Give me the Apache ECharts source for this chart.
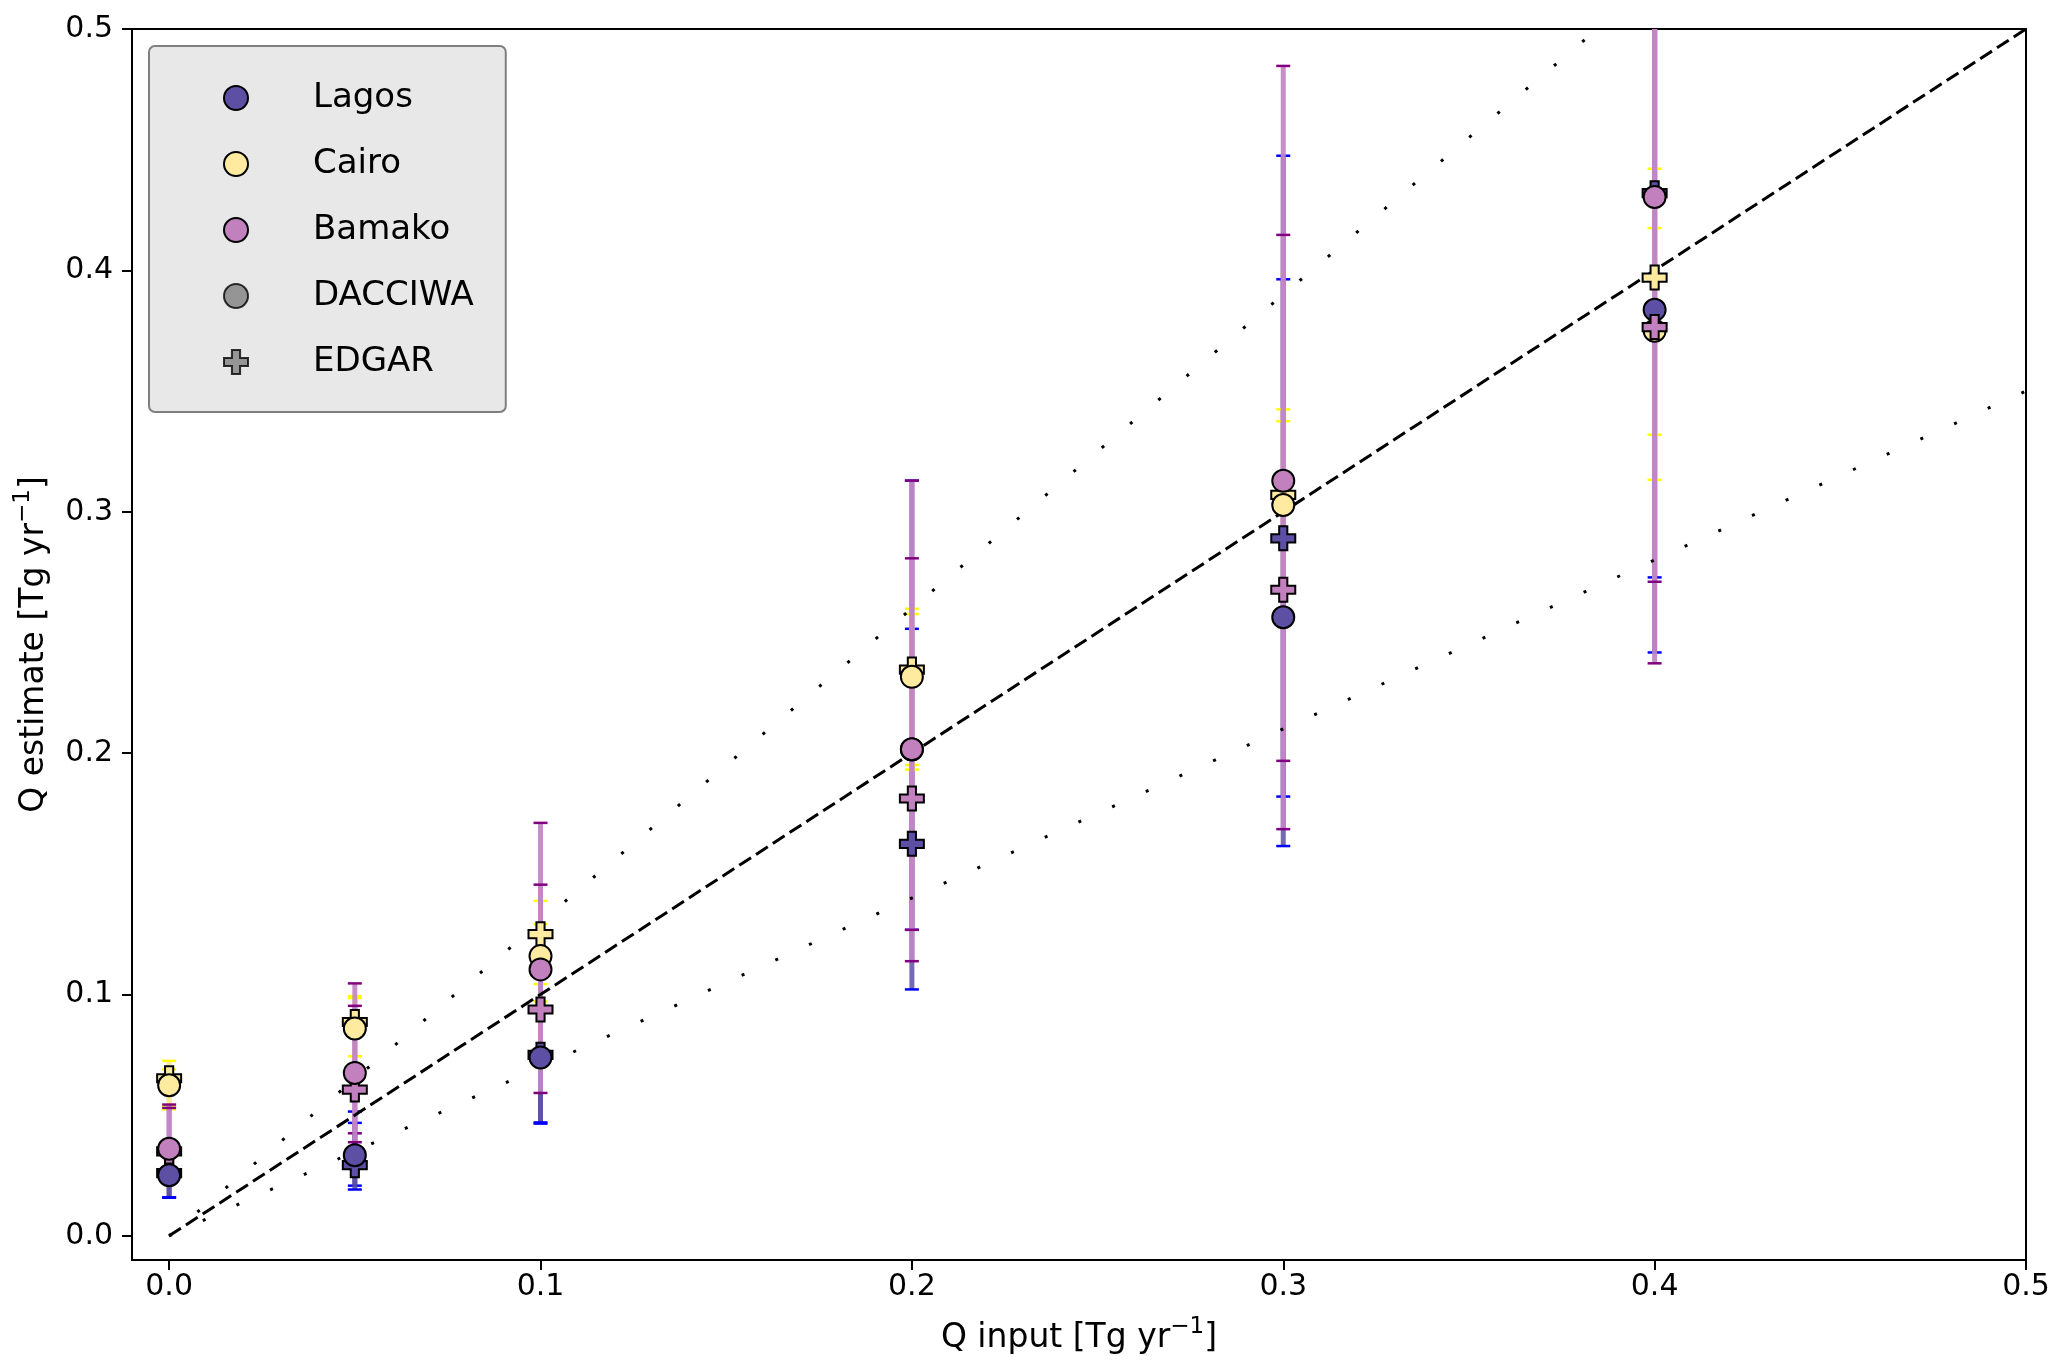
<!DOCTYPE html>
<html>
<head>
<meta charset="utf-8">
<script src="https://cdn.jsdelivr.net/npm/echarts@6/dist/echarts.min.js"></script>
<style>
  html, body { margin: 0; padding: 0; background: #fff; }
  #chart { width: 2067px; height: 1372px; }
</style>
</head>
<body>
<div id="chart"></div>
<script>
// Q input (x) positions
var xInput = [0, 0.05, 0.1, 0.2, 0.3, 0.4];
var tickValues = [0, 0.1, 0.2, 0.3, 0.4, 0.5];

// estimates: DACCIWA (circles) and EDGAR (crosses)
var lagosDacciwa = [0.0251, 0.0334, 0.0739, 0.2015, 0.2563, 0.3837];
var lagosEdgar = [0.026, 0.0293, 0.075, 0.1624, 0.289, 0.432];
var cairoDacciwa = [0.0624, 0.0859, 0.1159, 0.2316, 0.3028, 0.375];
var cairoEdgar = [0.0653, 0.0886, 0.125, 0.2346, 0.307, 0.397];
var bamakoDacciwa = [0.0361, 0.0675, 0.1104, 0.2016, 0.3128, 0.4304];
var bamakoEdgar = [0.035, 0.0606, 0.0938, 0.1812, 0.2677, 0.3765];

// error bar bounds
var lagosDacciwaLow = [0.0158, 0.0208, 0.0465, 0.1021, 0.1615, 0.2417];
var lagosDacciwaHigh = [0.034, 0.0515, 0.094, 0.3129, 0.4475, 0.56];
var lagosEdgarLow = [0.016, 0.0192, 0.047, 0.1268, 0.182, 0.2728];
var lagosEdgarHigh = [0.036, 0.0468, 0.0935, 0.2515, 0.3963, 0.53];
var cairoDacciwaLow = [0.0524, 0.0744, 0.1043, 0.1932, 0.2677, 0.3319];
var cairoDacciwaHigh = [0.0725, 0.0993, 0.1291, 0.2598, 0.3424, 0.4175];
var cairoEdgarLow = [0.054, 0.070, 0.0971, 0.1951, 0.289, 0.3132];
var cairoEdgarHigh = [0.069, 0.0985, 0.1388, 0.2576, 0.3375, 0.4421];
var bamakoDacciwaLow = [0.026, 0.0425, 0.0592, 0.1138, 0.1685, 0.2372];
var bamakoDacciwaHigh = [0.0544, 0.1046, 0.1711, 0.3129, 0.4847, 0.62];
var bamakoEdgarLow = [0.024, 0.0388, 0.072, 0.1268, 0.1968, 0.271];
var bamakoEdgarHigh = [0.053, 0.0953, 0.1455, 0.2807, 0.4147, 0.58];

// 1:1 line and +-30% lines
var refFactors = [1, 0.7, 1.3];
var refX = [0, 0.5];

var FONT = 'DejaVu Sans';
var PLUS = 'path://M-1,-0.34L-0.34,-0.34L-0.34,-1L0.34,-1L0.34,-0.34L1,-0.34L1,0.34L0.34,0.34L0.34,1L-0.34,1L-0.34,0.34L-1,0.34Z';

var colLagos = '#5d4fa4';
var colCairo = '#feeba0';
var colBamako = '#c280be';

function pts(vals) {
  return xInput.map(function (x, i) { return [x, vals[i]]; });
}

function errBars(name, low, high, lineColor, capColor) {
  return {
    type: 'custom',
    name: name,
    z: 1,
    clip: true,
    silent: true,
    data: xInput.map(function (x, i) { return [x, low[i], high[i]]; }),
    encode: { x: 0, y: [1, 2] },
    renderItem: function (params, api) {
      var x = api.value(0);
      var lo = api.coord([x, api.value(1)]);
      var hi = api.coord([x, api.value(2)]);
      var w = 7;
      return {
        type: 'group',
        children: [
          { type: 'line', shape: { x1: lo[0], y1: lo[1], x2: hi[0], y2: hi[1] },
            style: { stroke: lineColor, lineWidth: 5 } },
          { type: 'line', shape: { x1: lo[0] - w, y1: lo[1], x2: lo[0] + w, y2: lo[1] },
            style: { stroke: capColor, lineWidth: 2.5 } },
          { type: 'line', shape: { x1: hi[0] - w, y1: hi[1], x2: hi[0] + w, y2: hi[1] },
            style: { stroke: capColor, lineWidth: 2.5 } }
        ]
      };
    }
  };
}

function marks(name, vals, color, symbol) {
  var isPlus = symbol === 'plus';
  return {
    type: 'scatter',
    name: name,
    z: 3,
    data: pts(vals),
    symbol: isPlus ? PLUS : 'circle',
    symbolSize: isPlus ? 24 : 22,
    symbolKeepAspect: true,
    itemStyle: { color: color, borderColor: '#000', borderWidth: 2, opacity: 1 },
    emphasis: { disabled: true }
  };
}

function refLine(f) {
  return {
    type: 'line',
    z: 2,
    silent: true,
    showSymbol: false,
    data: refX.map(function (x) { return [x, f * x]; }),
    lineStyle: f === 1
      ? { color: '#000', width: 3, type: [14, 6] }
      : { color: '#000', width: 3, type: [3, 34] }
  };
}

var chart = echarts.init(document.getElementById('chart'));

var axisCommon = {
  type: 'value',
  min: -0.01,
  max: 0.5,
  nameLocation: 'middle',
  nameTextStyle: {
    color: '#000',
    fontFamily: FONT,
    rich: {
      n: { fontSize: 33, fontFamily: FONT, color: '#000', lineHeight: 44 },
      s: { fontSize: 23, fontFamily: FONT, color: '#000', verticalAlign: 'top', lineHeight: 23 }
    }
  },
  axisLine: { show: true, onZero: false, lineStyle: { color: '#000', width: 2 } },
  axisTick: { show: true, length: 10, lineStyle: { color: '#000', width: 2 }, customValues: tickValues },
  axisLabel: { fontSize: 30, color: '#000', fontFamily: FONT, customValues: tickValues,
    formatter: function (v) { return v.toFixed(1); } },
  splitLine: { show: false }
};

chart.setOption({
  animation: false,
  backgroundColor: '#fff',
  grid: { left: 132, right: 41, top: 29, bottom: 112, show: true, borderColor: '#000', borderWidth: 2 },
  xAxis: Object.assign({}, axisCommon, {
    name: '{n|Q input [Tg yr}{s|\u22121}{n|]}',
    nameGap: 56,
    axisLabel: Object.assign({}, axisCommon.axisLabel, { margin: 12 })
  }),
  yAxis: Object.assign({}, axisCommon, {
    name: '{n|Q estimate [Tg yr}{s|\u22121}{n|]}',
    nameGap: 76,
    axisLabel: Object.assign({}, axisCommon.axisLabel, { margin: 19 })
  }),
  legend: {
    left: 149,
    top: 46,
    orient: 'vertical',
    backgroundColor: '#e8e8e8',
    borderColor: '#7f7f7f',
    borderWidth: 2,
    borderRadius: 6,
    padding: [35, 32, 33, 74],
    itemWidth: 24,
    itemHeight: 24,
    itemGap: 32,
    textStyle: { fontSize: 34, color: '#000', fontFamily: FONT, padding: [0, 0, 0, 60] },
    data: [
      { name: 'Lagos', icon: 'circle' },
      { name: 'Cairo', icon: 'circle' },
      { name: 'Bamako', icon: 'circle' },
      { name: 'DACCIWA', icon: 'circle' },
      { name: 'EDGAR', icon: PLUS }
    ]
  },
  series: [
    errBars('Lagos err D', lagosDacciwaLow, lagosDacciwaHigh, 'rgba(93,79,164,0.85)', '#0000ff'),
    errBars('Lagos err E', lagosEdgarLow, lagosEdgarHigh, 'rgba(93,79,164,0.85)', '#0000ff'),
    errBars('Cairo err D', cairoDacciwaLow, cairoDacciwaHigh, 'rgba(252,232,155,0.9)', '#ffff00'),
    errBars('Cairo err E', cairoEdgarLow, cairoEdgarHigh, 'rgba(252,232,155,0.9)', '#ffff00'),
    errBars('Bamako err D', bamakoDacciwaLow, bamakoDacciwaHigh, 'rgba(194,134,198,0.92)', '#800080'),
    errBars('Bamako err E', bamakoEdgarLow, bamakoEdgarHigh, 'rgba(194,134,198,0.92)', '#800080'),
    refLine(refFactors[0]),
    refLine(refFactors[1]),
    refLine(refFactors[2]),
    marks('Lagos EDGAR', lagosEdgar, colLagos, 'plus'),
    marks('Lagos', lagosDacciwa, colLagos, 'circle'),
    marks('Cairo EDGAR', cairoEdgar, colCairo, 'plus'),
    marks('Cairo', cairoDacciwa, colCairo, 'circle'),
    marks('Bamako EDGAR', bamakoEdgar, colBamako, 'plus'),
    marks('Bamako', bamakoDacciwa, colBamako, 'circle'),
    { type: 'scatter', name: 'DACCIWA', data: [], symbol: 'circle',
      itemStyle: { color: '#808080', borderColor: '#000', borderWidth: 2 } },
    { type: 'scatter', name: 'EDGAR', data: [], symbol: PLUS,
      itemStyle: { color: '#808080', borderColor: '#000', borderWidth: 2 } }
  ]
});
</script>
</body>
</html>
